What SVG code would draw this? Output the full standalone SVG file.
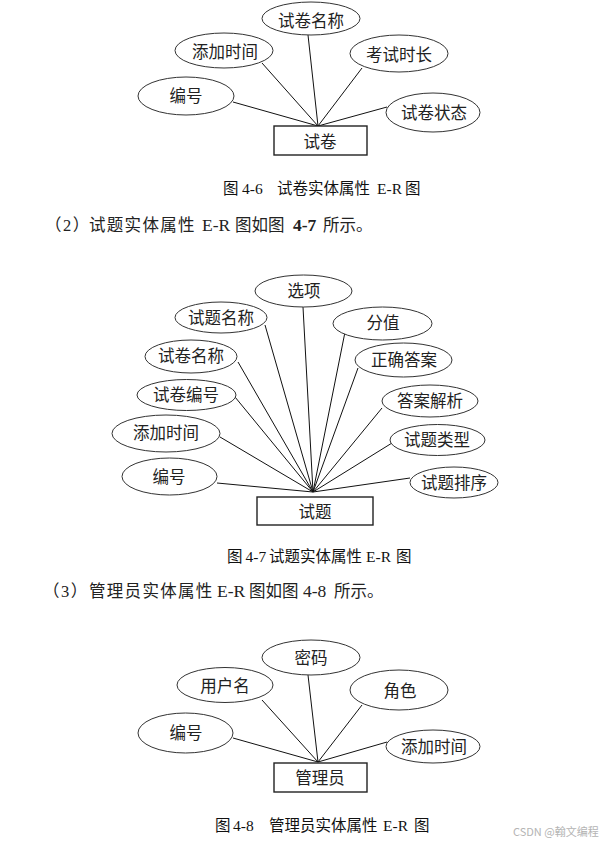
<svg xmlns="http://www.w3.org/2000/svg" width="610" height="845" viewBox="0 0 610 845">
<style>
.attr{fill:#fff;stroke:#333;stroke-width:1}
.ent{fill:#fff;stroke:#222;stroke-width:1.4}
.lbl{font-family:"Noto Sans CJK SC","Noto Sans",sans-serif;font-size:16.5px;fill:#222;text-anchor:middle;dominant-baseline:central}
.conn line{stroke:#111;stroke-width:1}
.cap{font-family:"Liberation Serif","Noto Sans CJK SC",serif;font-size:15.5px;fill:#111}
.par{font-family:"Liberation Serif","Noto Sans CJK SC",serif;font-size:16.5px;fill:#222}
.lat{font-size:17.5px}
.sp{letter-spacing:1.3px}
.b{font-weight:bold}
.wm{font-family:"Noto Sans CJK SC","Noto Sans",sans-serif;font-size:11px;fill:#b4b4b4}
</style>
<rect width="610" height="845" fill="#fff"/>

<!-- Diagram 4-6 -->
<g id="conn1" class="conn">
<line x1="308" y1="35" x2="318" y2="126"/>
<line x1="262" y1="63" x2="318" y2="126"/>
<line x1="362" y1="68" x2="318" y2="126"/>
<line x1="233" y1="102" x2="318" y2="126"/>
<line x1="387" y1="107" x2="318" y2="126"/>
</g>
<g id="d1_sjmc"><ellipse class="attr" cx="311" cy="18.5" rx="49" ry="16.5"/><text class="lbl" x="311" y="20">试卷名称</text></g>
<g id="d1_tjsj"><ellipse class="attr" cx="224" cy="50.5" rx="49" ry="17.5"/><text class="lbl" x="225" y="51">添加时间</text></g>
<g id="d1_kssc"><ellipse class="attr" cx="399" cy="53.5" rx="49" ry="18.5"/><text class="lbl" x="399" y="54">考试时长</text></g>
<g id="d1_bh"><ellipse class="attr" cx="186" cy="96" rx="48" ry="19"/><text class="lbl" x="186" y="95">编号</text></g>
<g id="d1_sjzt"><ellipse class="attr" cx="433" cy="112.5" rx="47" ry="19.5"/><text class="lbl" x="434" y="112">试卷状态</text></g>
<g id="d1_sj"><rect class="ent" x="274" y="126" width="93" height="29"/><text class="lbl" x="320" y="141">试卷</text></g>

<text class="cap" y="194"><tspan x="223">图</tspan><tspan x="242">4-6</tspan><tspan x="277">试卷实体属性</tspan><tspan x="377">E-R</tspan><tspan x="405">图</tspan></text>

<text class="par" y="231"><tspan x="45" letter-spacing="1.5">（2）</tspan><tspan class="sp" x="89">试题实体属性</tspan><tspan class="lat" x="202">E-R</tspan><tspan x="235">图如图</tspan><tspan class="b lat" x="293">4-7</tspan><tspan x="323">所示。</tspan></text>

<!-- Diagram 4-7 -->
<g id="conn2" class="conn">
<line x1="303" y1="307" x2="313" y2="492"/>
<line x1="265" y1="325" x2="313" y2="492"/>
<line x1="345" y1="332" x2="313" y2="492"/>
<line x1="238" y1="362" x2="313" y2="492"/>
<line x1="358" y1="368" x2="313" y2="492"/>
<line x1="235" y1="397" x2="313" y2="492"/>
<line x1="382" y1="408" x2="313" y2="492"/>
<line x1="220" y1="437" x2="313" y2="492"/>
<line x1="392" y1="443" x2="313" y2="492"/>
<line x1="217" y1="483" x2="313" y2="492"/>
<line x1="410" y1="478" x2="313" y2="492"/>
</g>
<g id="d2_xx"><ellipse class="attr" cx="303.5" cy="291" rx="48.5" ry="16"/><text class="lbl" x="304" y="290">选项</text></g>
<g id="d2_stmc"><ellipse class="attr" cx="221" cy="317.5" rx="46" ry="15.5"/><text class="lbl" x="221" y="317">试题名称</text></g>
<g id="d2_fz"><ellipse class="attr" cx="382.5" cy="323.5" rx="49.5" ry="16.5"/><text class="lbl" x="383" y="322">分值</text></g>
<g id="d2_sjmc"><ellipse class="attr" cx="191" cy="356.5" rx="46" ry="16.5"/><text class="lbl" x="191" y="355">试卷名称</text></g>
<g id="d2_zqda"><ellipse class="attr" cx="403.5" cy="360" rx="48.5" ry="17"/><text class="lbl" x="404" y="359">正确答案</text></g>
<g id="d2_sjbh"><ellipse class="attr" cx="186.5" cy="395" rx="49.5" ry="15.5"/><text class="lbl" x="186" y="394">试卷编号</text></g>
<g id="d2_dajx"><ellipse class="attr" cx="430" cy="401" rx="48" ry="16"/><text class="lbl" x="430" y="400">答案解析</text></g>
<g id="d2_tjsj"><ellipse class="attr" cx="166" cy="433.5" rx="54" ry="18.5"/><text class="lbl" x="166" y="432">添加时间</text></g>
<g id="d2_stlx"><ellipse class="attr" cx="437.5" cy="440" rx="47.5" ry="15.5"/><text class="lbl" x="437" y="439">试题类型</text></g>
<g id="d2_bh"><ellipse class="attr" cx="169.5" cy="476.5" rx="47.5" ry="18.5"/><text class="lbl" x="169" y="476">编号</text></g>
<g id="d2_stpx"><ellipse class="attr" cx="454" cy="482.5" rx="44" ry="15.5"/><text class="lbl" x="454" y="482">试题排序</text></g>
<g id="d2_st"><rect class="ent" x="257" y="497" width="116" height="28"/><text class="lbl" x="315" y="511">试题</text></g>

<text class="cap" y="562"><tspan x="227">图</tspan><tspan x="245.5">4-7</tspan><tspan x="269">试题实体属性</tspan><tspan x="366">E-R</tspan><tspan x="396">图</tspan></text>

<text class="par" y="597"><tspan x="43" letter-spacing="1.5">（3）</tspan><tspan class="sp" x="89">管理员实体属性</tspan><tspan class="lat" x="217">E-R</tspan><tspan x="249">图如图</tspan><tspan class="lat" x="303">4-8</tspan><tspan x="334">所示。</tspan></text>

<!-- Diagram 4-8 -->
<g id="conn3" class="conn">
<line x1="308" y1="675" x2="318" y2="762"/>
<line x1="262" y1="700" x2="318" y2="762"/>
<line x1="362" y1="705" x2="318" y2="762"/>
<line x1="233" y1="738" x2="318" y2="762"/>
<line x1="387" y1="742" x2="318" y2="762"/>
</g>
<g id="d3_mm"><ellipse class="attr" cx="311" cy="657.5" rx="49" ry="17.5"/><text class="lbl" x="311" y="657">密码</text></g>
<g id="d3_yhm"><ellipse class="attr" cx="225" cy="685" rx="48" ry="17.5"/><text class="lbl" x="225" y="685">用户名</text></g>
<g id="d3_js"><ellipse class="attr" cx="399" cy="690" rx="49" ry="20"/><text class="lbl" x="400" y="690">角色</text></g>
<g id="d3_bh"><ellipse class="attr" cx="185.5" cy="733" rx="47.5" ry="20"/><text class="lbl" x="186" y="732">编号</text></g>
<g id="d3_tjsj"><ellipse class="attr" cx="433" cy="746.5" rx="47" ry="16.5"/><text class="lbl" x="434" y="746">添加时间</text></g>
<g id="d3_gly"><rect class="ent" x="274" y="763" width="93" height="29"/><text class="lbl" x="320" y="777">管理员</text></g>

<text class="cap" y="831"><tspan x="215">图</tspan><tspan x="233">4-8</tspan><tspan x="269">管理员实体属性</tspan><tspan x="383">E-R</tspan><tspan x="414">图</tspan></text>

<text class="wm" x="513" y="836">CSDN @翰文编程</text>
</svg>
